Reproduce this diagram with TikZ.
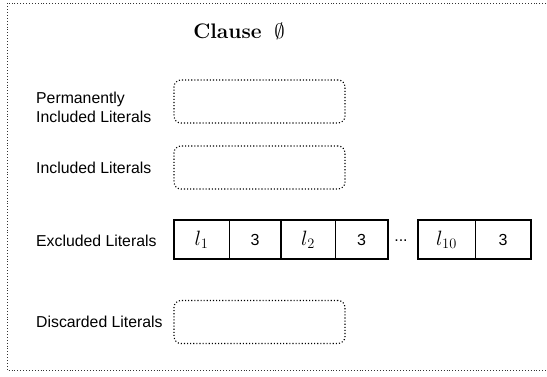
\documentclass[tikz,border=0pt]{standalone}
\usepackage{fontspec}
\newfontfamily\arialf{Liberation Sans}
\begin{document}
\begin{tikzpicture}[x=1pt,y=-1pt,
  outerframe/.style={line width=0.9pt, dotted, black!80},
  slotbox/.style={draw, line width=1.1pt, dotted, rounded corners=7pt, minimum width=171pt, minimum height=43pt, inner sep=0pt},
  lbl/.style={anchor=west, align=left, font=\arialf\fontsize{15.8}{19}\selectfont, inner sep=0pt},
  cell/.style={minimum height=39pt, inner sep=0pt},
  numtxt/.style={font=\arialf\fontsize{16}{18}\selectfont},
  littxt/.style={font=\fontsize{20}{22}\selectfont},
  groupframe/.style={line width=2pt},
  divider/.style={line width=0.9pt}
]
\fill[white] (0,0) rectangle (547,377);
\useasboundingbox (0,0) rectangle (547,377);
\coordinate (tr) at (546,3);
\coordinate (tl) at (7,3);
\coordinate (bl) at (7,370);
\coordinate (br) at (546,370);
\draw[outerframe] (tr) -- (tl) -- (bl) -- (br);

\node[font=\fontsize{21}{25}\selectfont] (title) at (239,31) {\textbf{Clause}\ \ $\emptyset$};

\node[lbl] (plab) at (36,107) {Permanently\\Included Literals};
\node[slotbox] (pbox) at (259.5,101.5) {};

\node[lbl] (ilab) at (36,168) {Included Literals};
\node[slotbox] (ibox) at (259.5,167.5) {};

\node[lbl] (elab) at (36,241) {Excluded Literals};

\node[cell, minimum width=55pt, littxt] (l1) at (201.5,239.5) {$l_1$};
\node[cell, minimum width=52pt, numtxt] (n1) at (255,239.5) {3};
\draw[groupframe] (l1.north west) rectangle (n1.south east);
\draw[divider] (l1.north east) -- (l1.south east);

\node[cell, minimum width=54pt, littxt] (l2) at (308,239.5) {$l_2$};
\node[cell, minimum width=53pt, numtxt] (n2) at (361.5,239.5) {3};
\draw[groupframe] (l2.north west) rectangle (n2.south east);
\draw[divider] (l2.north east) -- (l2.south east);

\node[numtxt, inner sep=0pt] (dots) at (401,241) {...};

\node[cell, minimum width=57pt, littxt] (l10) at (446.5,239.5) {$l_{10}$};
\node[cell, minimum width=56pt, numtxt] (n10) at (503,239.5) {3};
\draw[groupframe] (l10.north west) rectangle (n10.south east);
\draw[divider] (l10.north east) -- (l10.south east);

\node[lbl] (dlab) at (36,322) {Discarded Literals};
\node[slotbox] (dbox) at (259.5,322) {};
\end{tikzpicture}
\end{document}
